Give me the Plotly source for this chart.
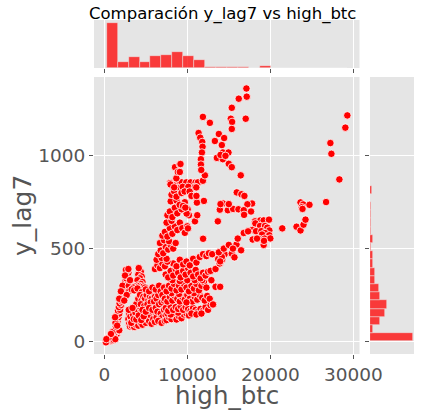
import numpy as np
import plotly.graph_objects as go

# scatter points (high_btc, y_lag7)
origen = [(300, 2), (350, 5), (400, 3), (450, 8), (500, 4), (550, 10), (600, 6), (650, 12),
          (700, 8), (750, 15), (800, 10), (850, 18), (900, 14), (950, 22), (1000, 16), (1050, 25),
          (1100, 20), (1150, 30), (1200, 24), (1250, 35), (1300, 28), (1350, 40), (1400, 34),
          (1450, 48), (1500, 40), (1550, 55), (420, 15), (620, 25), (820, 30), (1020, 38),
          (1220, 45), (720, 2), (920, 5), (1120, 8), (1320, 12), (520, 20), (1420, 60),
          (1600, 62), (1000, 50), (800, 40), (200, -5), (250, 12), (1700, 70), (1800, 60)]

brazo_izq = [(1400, 80), (1500, 95), (1600, 110), (1450, 120), (1700, 130), (1550, 140), (1800, 150),
             (1650, 165), (1900, 170), (1750, 185), (2000, 195), (1850, 205), (2100, 215), (1950, 225),
             (2200, 235), (2050, 245), (2300, 250), (2150, 260), (2400, 265), (2250, 280), (2500, 285),
             (2350, 295), (2600, 300), (2450, 310), (2700, 315), (2550, 325), (2800, 330), (2650, 340),
             (2850, 350), (2700, 360), (2900, 370), (2750, 380), (2600, 385), (2900, 390), (2500, 355),
             (2200, 300), (2000, 270), (1800, 230), (2950, 300), (3000, 270), (2700, 250), (2400, 220),
             (3100, 330), (1350, 100), (1550, 85), (1300, 130)]

brazo_2 = [(4200, 385), (4400, 375), (4100, 360), (4500, 350), (4300, 340), (4000, 330), (4600, 320),
           (4400, 310), (4200, 300), (4700, 295), (4900, 290), (3900, 300), (3700, 295), (3500, 290),
           (3300, 280), (3600, 275), (4000, 285), (4800, 270), (5000, 260), (4500, 265), (4150, 395)]

banda_baja = [(2900, 120), (3000, 95), (3100, 80), (3200, 110), (3300, 85), (3400, 130), (3500, 100),
              (3600, 78), (3700, 115), (3800, 90), (3900, 140), (4000, 105), (4100, 85), (4200, 125),
              (4300, 150), (4400, 100), (4500, 130), (4600, 90), (4700, 160), (4800, 115), (4900, 140),
              (5000, 100), (5100, 170), (5200, 125), (5300, 150), (5400, 110), (5500, 180), (5600, 140),
              (5700, 95), (5800, 160), (5900, 120), (6000, 190), (6100, 105), (6200, 150), (6300, 130),
              (3000, 150), (3300, 160), (3600, 165), (3150, 135), (3450, 145), (3750, 155), (4050, 170),
              (4350, 180), (2950, 170), (4250, 190), (3850, 200), (4600, 200), (4900, 210), (3400, 180),
              (3250, 100), (3550, 120), (3850, 118), (4150, 140), (4450, 115), (4750, 135)]

masa_media = [(4100, 230), (4300, 250), (4500, 220), (4700, 240), (4900, 230), (5100, 250), (5300, 220),
              (5500, 240), (5700, 230), (5900, 260), (6100, 240), (4400, 200), (4800, 190), (5200, 200),
              (5600, 210), (6000, 215), (6300, 230), (6500, 250), (5000, 280), (5400, 270), (5800, 290),
              (6200, 280), (6600, 300), (6800, 270), (7000, 250), (4600, 170), (5000, 160), (5400, 180),
              (5800, 170), (6200, 180), (6600, 200), (6900, 210), (7200, 220), (6400, 160), (6800, 150),
              (7200, 170), (6700, 120), (7000, 130), (7400, 140), (6500, 110), (6900, 100), (7300, 110)]

masa_baja = [(7500, 115), (7800, 130), (8100, 120), (8400, 140), (8700, 118), (9000, 135), (9300, 125),
             (9600, 145), (9900, 150), (10200, 140), (7600, 150), (8000, 145), (8900, 155),
             (7400, 180), (7700, 165), (8000, 190), (8300, 170), (8600, 185), (8900, 175), (9200, 190),
             (9500, 170), (9800, 185), (10100, 175), (10400, 165), (10700, 180), (11000, 170), (11300, 160),
             (11600, 175), (11900, 165), (12200, 185), (12500, 170), (12800, 195), (13100, 200),
             (10500, 150), (11100, 145), (11700, 150),
             (7300, 230), (7600, 215), (7900, 240), (8200, 220), (8500, 245), (8800, 230), (9100, 215),
             (9400, 240), (9700, 225), (10000, 250), (10300, 230), (10600, 215), (10900, 240), (11200, 225),
             (11500, 250), (11800, 235), (12100, 220), (12400, 245), (12700, 230), (8100, 260), (9000, 255),
             (9900, 210), (10800, 260),
             (7200, 290), (7500, 270), (7800, 300), (8100, 285), (8400, 310), (8700, 275), (9000, 300),
             (9300, 280), (9600, 310), (9900, 290), (10200, 270), (10500, 300), (10800, 285), (11100, 310),
             (11400, 275), (11700, 300), (12000, 320), (12300, 290), (8200, 330), (9100, 325), (10000, 330),
             (10900, 330), (11800, 330),
             (7400, 360), (7700, 345), (8000, 380), (8300, 355), (8600, 390), (8900, 370), (9200, 345),
             (9500, 380), (9800, 360), (10100, 395), (10400, 370), (10700, 350), (11000, 385), (11300, 360),
             (11600, 340), (11900, 370), (12200, 355), (12500, 375), (12800, 380),
             (8300, 420), (8700, 405), (9100, 440), (9500, 415), (9900, 430), (10300, 410), (10700, 445),
             (11100, 425), (11500, 455), (11900, 470), (12300, 460), (12600, 475), (13000, 470),
             (13400, 294), (13960, 294), (13100, 199), (12900, 330), (13400, 390), (13900, 420),
             (14500, 470), (14200, 440), (13720, 444), (14160, 455), (13960, 431)]

banda_media = [(13800, 480), (14400, 500), (15000, 520), (15360, 473), (15680, 453), (15920, 522),
               (16480, 491), (16080, 554), (15500, 500), (11920, 554)]

brazo_sup = [(6100, 390), (6400, 410), (6700, 395), (7000, 420), (7300, 405), (7600, 430), (6300, 440),
             (6900, 450), (7500, 445), (6500, 470), (6800, 490), (7100, 475), (7400, 510), (7700, 495),
             (8000, 520), (6700, 530), (7200, 545), (7800, 540), (8300, 500), (8600, 530),
             (7000, 570), (7300, 590), (7600, 565), (7900, 610), (8200, 580), (8500, 620), (8800, 600),
             (9100, 640), (7500, 640), (8100, 650), (9400, 610), (9700, 585),
             (7600, 680), (7900, 700), (8200, 670), (8500, 720), (8800, 690), (9100, 740), (9400, 710),
             (9700, 750), (8000, 755), (8700, 760), (9900, 700), (10200, 680), (10000, 620),
             (8100, 790), (8400, 810), (8700, 780), (9000, 830), (9300, 800), (9600, 845), (9900, 820),
             (8500, 857), (9320, 857), (9880, 857), (10400, 857), (11000, 857), (11280, 857), (7920, 853),
             (8360, 841), (11880, 866), (9440, 833), (10120, 833), (10920, 833), (9680, 808),
             (10280, 808), (11080, 830), (12000, 757), (11080, 779), (11160, 748), (10040, 712),
             (9920, 689), (9320, 712), (9080, 736), (9480, 730), (9760, 721), (10920, 647), (10080, 609),
             (8680, 879), (9000, 917), (8520, 939), (9080, 955), (9180, 956), (8860, 913), (9100, 913),
             (10500, 784), (11100, 784), (11200, 680), (11900, 553), (7980, 846), (8420, 830)]

disperso = [(17120, 1363), (16200, 1308), (17160, 1319), (15360, 1259), (11880, 1210), (12720, 1178),
            (15240, 1200), (15400, 1183), (17040, 1200), (15360, 1145), (13800, 1118), (14440, 1096),
            (13320, 1080), (14160, 1058), (11360, 1123), (11560, 1098), (11800, 1075), (11840, 1049),
            (11760, 1018), (14280, 1018), (14960, 1018), (13560, 989), (14280, 982), (15000, 957),
            (15360, 939), (16440, 895), (11640, 982), (11640, 953), (12120, 895), (11680, 924),
            (14000, 1005), (14600, 1000),
            (15960, 803), (16520, 793), (16880, 784), (14320, 743), (17800, 743), (17240, 739),
            (13920, 710), (14880, 707), (15520, 714), (16160, 712), (16800, 707), (16840, 682),
            (17680, 700), (13680, 647), (14000, 740), (15000, 740)]

derecha = [(18160, 647), (18800, 652), (19200, 652), (19840, 656), (18200, 636), (18760, 622),
           (19360, 622), (19640, 613), (17840, 600), (18280, 594), (18920, 594), (19880, 598),
           (19360, 584), (16800, 584), (17320, 593), (19000, 576), (19880, 572), (19320, 554),
           (18600, 553), (17880, 549), (18400, 554), (20000, 555), (19200, 520), (19240, 542),
           (21440, 609), (23160, 618), (23640, 598), (24000, 629), (24240, 656), (23640, 749),
           (23960, 738), (23800, 723), (24720, 736), (23880, 714), (26720, 751), (28320, 873),
           (27360, 1011), (27240, 1069), (29040, 1152), (29280, 1218)]

# marginal histogram counts
high_btc_min, high_btc_max = 290, 29300
conteo_high_btc = [585, 78, 143, 78, 156, 173, 208, 156, 104, 18, 18, 18, 18, 0, 22, 0, 0, 4, 4, 0, 4, 4]
y_lag7_min, y_lag7_max = 0, 1370
conteo_y_lag7 = [559, 39, 130, 195, 221, 130, 117, 65, 65, 39, 39, 13, 35, 17, 17, 17, 17, 4, 22,
                 4, 4, 4, 4, 4, 4, 4, 4, 4, 4, 4, 4]

ticks_x = [0, 10000, 20000, 30000]
ticks_y = [0, 500, 1000]

puntos = origen + brazo_izq + brazo_2 + banda_baja + masa_media + masa_baja + banda_media + brazo_sup + disperso + derecha
high_btc = [p[0] for p in puntos]
y_lag7 = [p[1] for p in puntos]

bordes_x = np.linspace(high_btc_min, high_btc_max, len(conteo_high_btc) + 1)
bordes_y = np.linspace(y_lag7_min, y_lag7_max, len(conteo_y_lag7) + 1)

W, H = 422, 416
GRIS = '#555555'
FUENTE = 'DejaVu Sans'

fig = go.Figure()

fig.add_trace(go.Scatter(
    x=high_btc, y=y_lag7, mode='markers',
    marker=dict(size=7.5, color='#FF0000', line=dict(color='white', width=0.8)),
    xaxis='x', yaxis='y', showlegend=False, hoverinfo='skip'
))

barra = dict(color='rgba(255,0,0,0.75)', line=dict(color='rgba(238,238,238,0.8)', width=0.6))

fig.add_trace(go.Bar(
    x=(bordes_x[:-1] + bordes_x[1:]) / 2, y=conteo_high_btc,
    width=np.diff(bordes_x), marker=barra,
    xaxis='x2', yaxis='y2', showlegend=False
))

fig.add_trace(go.Bar(
    y=(bordes_y[:-1] + bordes_y[1:]) / 2, x=conteo_y_lag7,
    width=np.diff(bordes_y), orientation='h', marker=barra,
    xaxis='x3', yaxis='y3', showlegend=False
))

x_dom = [94 / W, 359.5 / W]
y_dom = [1 - 354 / H, 1 - 77 / H]
tick_font = dict(family=FUENTE, size=18.5, color=GRIS)
eje = dict(showgrid=True, gridcolor='white', gridwidth=1, zeroline=False, showline=False,
           ticks='outside', ticklen=4, tickcolor=GRIS, tickformat='d', automargin=False)
marg = dict(showgrid=False, zeroline=False, showticklabels=False, ticks='', automargin=False)

fig.update_layout(
    width=W, height=H, autosize=False,
    margin=dict(l=0, r=0, t=0, b=0, autoexpand=False),
    paper_bgcolor='white',
    plot_bgcolor='#E5E5E5',
    bargap=0,
    xaxis=dict(domain=x_dom, range=[-1241, 30747], tickvals=ticks_x, anchor='y',
               tickfont=tick_font, **eje),
    yaxis=dict(domain=y_dom, range=[-68, 1425], tickvals=ticks_y, anchor='x',
               tickfont=tick_font, **eje),
    xaxis2=dict(domain=x_dom, matches='x', anchor='y2', tickvals=ticks_x,
                showticklabels=False, **eje),
    yaxis2=dict(domain=[1 - 68 / H, 1 - 20 / H], range=[0, 624], anchor='x2', **marg),
    xaxis3=dict(domain=[370 / W, 414 / W], range=[0, 572], anchor='y3', **marg),
    yaxis3=dict(domain=y_dom, matches='y', anchor='x3', tickvals=ticks_y,
                showticklabels=False, **eje),
    annotations=[
        dict(text='Comparación y_lag7 vs high_btc', xref='paper', yref='paper',
             x=223 / W, y=1 - 14 / H, xanchor='center', yanchor='middle', showarrow=False,
             font=dict(family=FUENTE, size=16.5, color='black')),
        dict(text='high_btc', xref='paper', yref='paper',
             x=227 / W, y=1 - 395 / H, xanchor='center', yanchor='middle', showarrow=False,
             font=dict(family=FUENTE, size=24.5, color=GRIS)),
        dict(text='y_lag7', xref='paper', yref='paper', textangle=-90,
             x=22 / W, y=1 - 216 / H, xanchor='center', yanchor='middle', showarrow=False,
             font=dict(family=FUENTE, size=25, color=GRIS)),
    ],
)

ajuste = ("document.documentElement.style.overflow='hidden';"
          "document.body.style.margin='0';document.body.style.overflow='hidden';")
fig.write_html("out.html", config={'displayModeBar': False}, post_script=ajuste)
